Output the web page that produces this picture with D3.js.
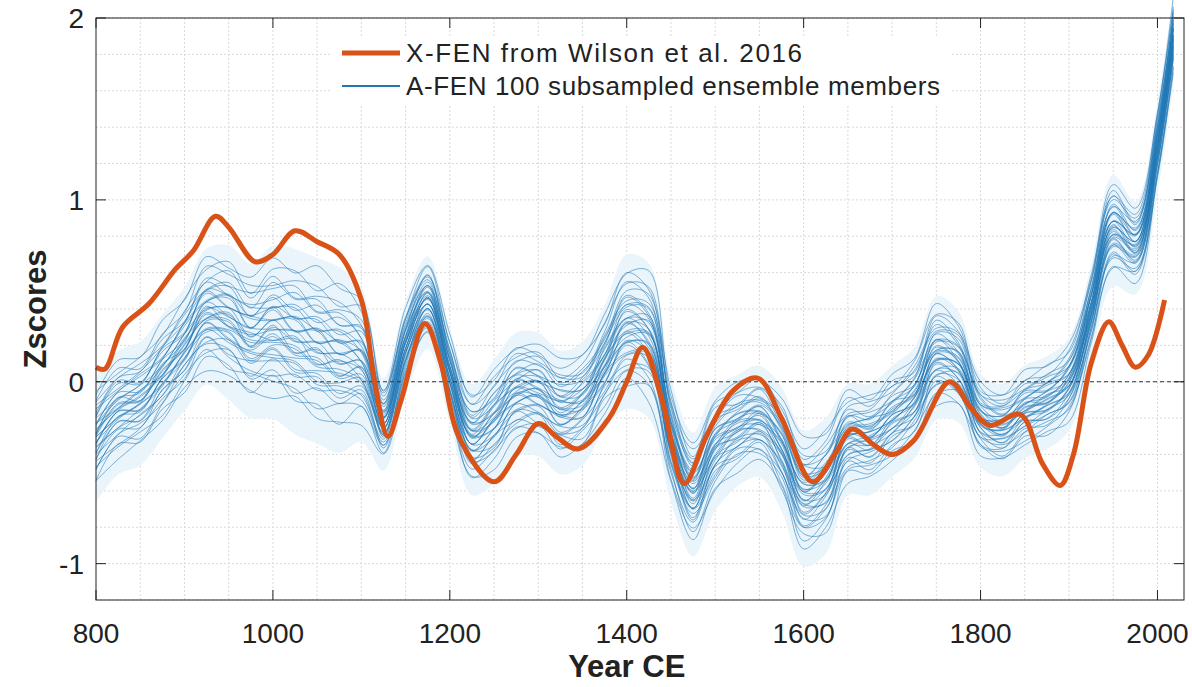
<!DOCTYPE html><html><head><meta charset="utf-8"><script src="https://cdn.jsdelivr.net/npm/d3@7"></script>
<style>body{margin:0;background:#fff}text{font-family:"Liberation Sans",Arial,sans-serif}</style></head><body><svg id="c" width="1192" height="687"></svg>
<script>
const xTicks=[800,1000,1200,1400,1600,1800,2000];
const yTicks=[-1,0,1,2];
const meanYears=[800,825,850,875,900,925,950,975,1000,1025,1050,1075,1100,1125,1150,1175,1200,1225,1250,1275,1300,1325,1350,1375,1400,1425,1450,1475,1500,1525,1550,1575,1600,1625,1650,1675,1700,1725,1750,1775,1800,1825,1850,1875,1900,1925,1950,1975,2000,2018];
const meanVals=[-0.3,-0.15,-0.1,0.05,0.2,0.38,0.35,0.25,0.3,0.25,0.2,0.15,0.12,-0.22,0.2,0.45,0.05,-0.3,-0.2,-0.05,-0.05,-0.15,-0.1,0.1,0.3,0.25,-0.3,-0.6,-0.35,-0.25,-0.2,-0.35,-0.62,-0.55,-0.3,-0.3,-0.2,-0.1,0.15,0.1,-0.2,-0.25,-0.15,-0.1,0.0,0.4,0.85,0.75,1.3,1.9];
const spreadVals=[0.2,0.2,0.2,0.2,0.2,0.22,0.25,0.25,0.28,0.3,0.3,0.3,0.25,0.15,0.15,0.15,0.15,0.18,0.2,0.2,0.2,0.2,0.2,0.2,0.25,0.25,0.2,0.2,0.2,0.18,0.18,0.2,0.22,0.22,0.18,0.18,0.18,0.18,0.2,0.18,0.15,0.15,0.15,0.15,0.15,0.15,0.18,0.15,0.15,0.15];
const memberOffsets=[-1.6,-1.4,-1.25,-1.1,-1.0,-0.9,-0.8,-0.72,-0.65,-0.58,-0.5,-0.44,-0.38,-0.32,-0.26,-0.2,-0.15,-0.1,-0.05,0,0.05,0.1,0.15,0.2,0.26,0.32,0.38,0.44,0.5,0.58,0.65,0.72,0.8,0.9,1.0,1.1,1.25,1.4,1.6];
const memberPhase=[0.3,-0.5,0.8,-0.2,0.6,-0.9,0.1,0.4,-0.6,0.9,-0.3,0.2,-0.8,0.5,-0.1,0.7,-0.4,0.3,-0.7,0.0,0.6,-0.2,0.4,-0.5,0.8,-0.9,0.2,-0.3,0.5,-0.6,0.1,0.9,-0.4,0.7,-0.8,0.3,-0.1,0.6,-0.7];
const redYears=[800,810,830,860,890,910,935,950,980,1000,1025,1050,1075,1100,1115,1130,1145,1172,1190,1210,1250,1275,1300,1320,1345,1380,1400,1418,1440,1465,1490,1520,1548,1575,1610,1635,1655,1680,1700,1725,1765,1790,1810,1845,1870,1890,1905,1925,1945,1960,1975,1990,2008];
const redVals=[0.08,0.07,0.3,0.43,0.62,0.72,0.91,0.85,0.66,0.7,0.83,0.77,0.7,0.45,0,-0.3,-0.1,0.32,0.1,-0.3,-0.55,-0.4,-0.23,-0.3,-0.37,-0.2,0,0.19,-0.1,-0.56,-0.3,-0.05,0.02,-0.2,-0.55,-0.4,-0.26,-0.35,-0.4,-0.32,0,-0.15,-0.24,-0.18,-0.45,-0.57,-0.4,0.1,0.33,0.2,0.08,0.15,0.45];

const svg=d3.select("#c");
const L=96,R=1184,T=18,B=600;
const x=d3.scaleLinear().domain([800,2030]).range([L,R]);
const y=d3.scaleLinear().domain([-1.2,2]).range([B,T]);
const g=svg.append("g");
for(let v=850;v<2030;v+=50)g.append("line").attr("x1",x(v)).attr("x2",x(v)).attr("y1",T).attr("y2",B).attr("stroke","#d8d8d8").attr("stroke-dasharray","2,2");
for(let i=-6;i<=10;i++){const v=i*0.2;g.append("line").attr("x1",L).attr("x2",R).attr("y1",y(v)).attr("y2",y(v)).attr("stroke","#d8d8d8").attr("stroke-dasharray","2,2");}
const area=d3.area().curve(d3.curveCatmullRom).x((d,i)=>x(meanYears[i])).y0((d,i)=>y(meanVals[i]-1.8*spreadVals[i])).y1((d,i)=>y(meanVals[i]+1.6*spreadVals[i]));
g.append("path").attr("d",area(meanVals)).attr("fill","#eaf4fb");
const line=d3.line().curve(d3.curveCatmullRom);
memberOffsets.forEach((o,k)=>{
 const pts=meanYears.map((yr,i)=>[x(yr),y(meanVals[i]+spreadVals[i]*(0.8*o+0.2*memberPhase[(k+i)%memberPhase.length]))]);
 g.append("path").attr("d",line(pts)).attr("fill","none").attr("stroke","#1f77b4").attr("stroke-opacity",0.55).attr("stroke-width",1);
});
g.append("line").attr("x1",L).attr("x2",R).attr("y1",y(0)).attr("y2",y(0)).attr("stroke","#333").attr("stroke-dasharray","4,3");
g.append("path").attr("d",line(redYears.map((yr,i)=>[x(yr),y(redVals[i])]))).attr("fill","none").attr("stroke","#d95319").attr("stroke-width",5);
svg.append("rect").attr("x",L).attr("y",T).attr("width",R-L).attr("height",B-T).attr("fill","none").attr("stroke","#222");
xTicks.forEach(v=>{svg.append("line").attr("x1",x(v)).attr("x2",x(v)).attr("y1",B).attr("y2",B-10).attr("stroke","#222");svg.append("line").attr("x1",x(v)).attr("x2",x(v)).attr("y1",T).attr("y2",T+10).attr("stroke","#222");
 svg.append("text").attr("x",x(v)).attr("y",643).attr("text-anchor","middle").attr("font-size",28).attr("fill","#222").text(v);});
yTicks.forEach(v=>{svg.append("line").attr("x1",L).attr("x2",L+10).attr("y1",y(v)).attr("y2",y(v)).attr("stroke","#222");svg.append("line").attr("x1",R).attr("x2",R-10).attr("y1",y(v)).attr("y2",y(v)).attr("stroke","#222");
 svg.append("text").attr("x",84).attr("y",y(v)+10).attr("text-anchor","end").attr("font-size",28).attr("fill","#222").text(v);});
svg.append("text").attr("x",x(1400)).attr("y",677).attr("text-anchor","middle").attr("font-size",31).attr("font-weight","bold").attr("fill","#222").text("Year CE");
svg.append("text").attr("transform","translate(46,"+y(0.4)+") rotate(-90)").attr("text-anchor","middle").attr("font-size",31).attr("font-weight","bold").attr("fill","#222").text("Zscores");
svg.append("rect").attr("x",330).attr("y",38).attr("width",620).attr("height",66).attr("fill","#fff");
svg.append("line").attr("x1",342).attr("x2",400).attr("y1",53).attr("y2",53).attr("stroke","#d95319").attr("stroke-width",5);
svg.append("line").attr("x1",342).attr("x2",400).attr("y1",86).attr("y2",86).attr("stroke","#1f77b4").attr("stroke-width",2);
svg.append("text").attr("x",406).attr("y",62).attr("font-size",26).attr("textLength",396).attr("fill","#222").text("X-FEN from Wilson et al. 2016");
svg.append("text").attr("x",406).attr("y",95).attr("font-size",26).attr("textLength",534).attr("fill","#222").text("A-FEN 100 subsampled ensemble members");
</script></body></html>
